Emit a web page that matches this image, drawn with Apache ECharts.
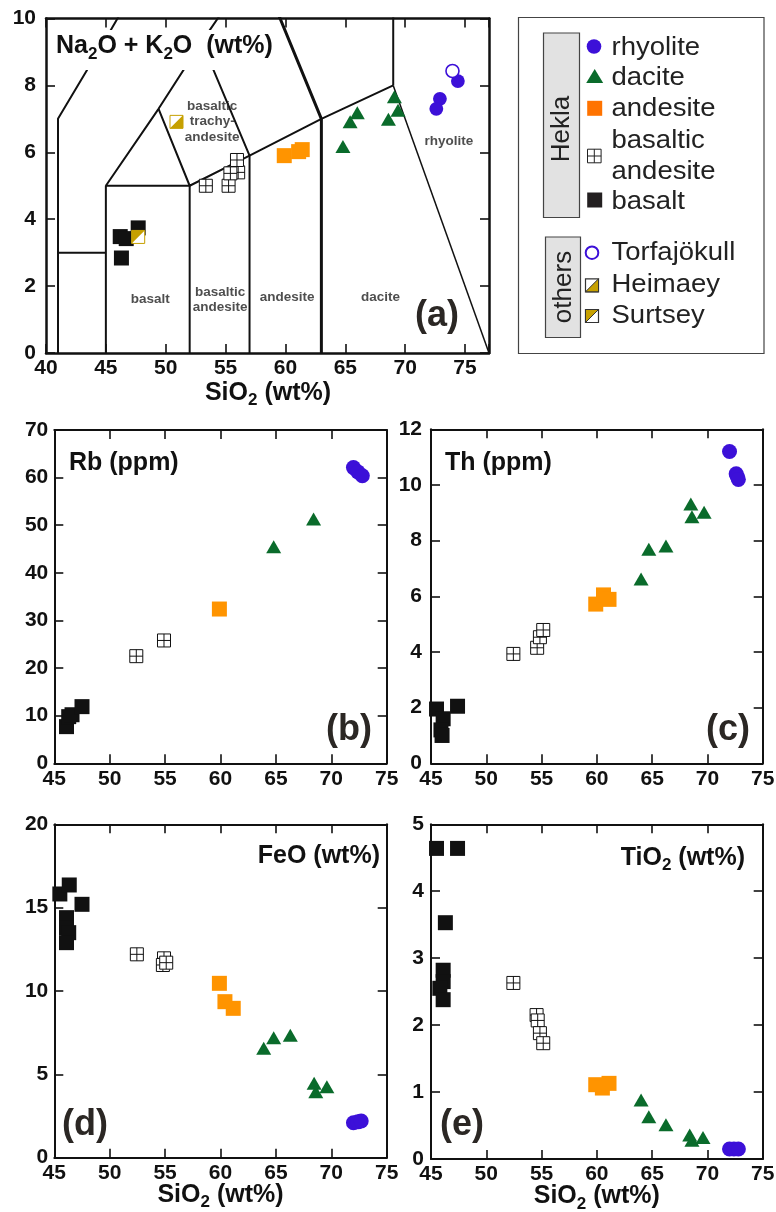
<!DOCTYPE html>
<html>
<head>
<meta charset="utf-8">
<script src="https://cdn.jsdelivr.net/npm/echarts@6/dist/echarts.min.js"></script>
<style>
  html, body { margin: 0; padding: 0; background: #fff; }
  #chart { width: 776px; height: 1212px; }
</style>
</head>
<body>
<div id="chart"></div>
<script>
// ---------- axis ticks ----------
const tasSilicaTicks = [40, 45, 50, 55, 60, 65, 70, 75];
const tasSilicaMax = 77;
const tasAlkaliTicks = [0, 2, 4, 6, 8, 10];
const silicaTicks = [45, 50, 55, 60, 65, 70, 75];
const rbTicks = [0, 10, 20, 30, 40, 50, 60, 70];
const thTicks = [0, 2, 4, 6, 8, 10, 12];
const feoTicks = [0, 5, 10, 15, 20];
const tio2Ticks = [0, 1, 2, 3, 4, 5];

// ---------- (a) total alkali vs silica ----------
const tasRhyolite = [[74.4, 8.13], [72.9, 7.6], [72.6, 7.3]];
const tasDacite = [[69.1, 7.66], [69.4, 7.26], [66.0, 7.18], [65.4, 6.91], [68.6, 6.99], [64.8, 6.17]];
const tasAndesite = [[59.9, 5.9], [61.1, 6.02], [61.4, 6.08]];
const tasBasAndesite = [[53.35, 5.0], [55.25, 5.0], [56.05, 5.4], [55.4, 5.37], [55.95, 5.77]];
const tasBasalt = [[46.2, 3.48], [46.7, 3.42], [46.3, 2.84], [47.7, 3.74]];
const tasTorfajokull = [[73.95, 8.43]];
const tasHeimaey = [[50.9, 6.91]];
const tasSurtsey = [[47.7, 3.47]];

// TAS field boundaries (Le Bas et al.)
const tasLinesThin = [
  [[41, 0], [41, 7], [45, 9.4], [48.4, 11.5]],
  [[41, 3], [45, 3]],
  [[45, 0], [45, 5], [52, 5], [52, 0]],
  [[45, 5], [49.4, 7.3], [53, 9.3], [57.6, 11.7]],
  [[49.4, 7.3], [52, 5], [57, 5.9], [63, 7], [69, 8]],
  [[57, 0], [57, 5.9], [53, 9.3]],
  [[69, 8], [69, 13]]
];
const tasLinesThick = [
  [[63, 0], [63, 7], [57.6, 11.7]]
];
const tasLinesFine = [
  [[69, 8], [77, 0]]
];
const tasFieldLabels = [
  [48.7, 1.6, 'basalt'],
  [54.55, 1.59, 'basaltic\nandesite'],
  [60.13, 1.68, 'andesite'],
  [67.93, 1.68, 'dacite'],
  [73.64, 6.32, 'rhyolite'],
  [53.88, 6.92, 'basaltic\ntrachy-\nandesite']
];

// ---------- (b) Rb ----------
const rbRhyolite = [[72.0, 62.1], [72.4, 61.2], [72.8, 60.4]];
const rbDacite = [[64.8, 45.5], [68.4, 51.3]];
const rbAndesite = [[59.9, 32.4]];
const rbBasAndesite = [[52.4, 22.5], [54.9, 25.8]];
const rbBasalt = [[46.1, 7.7], [46.3, 9.8], [46.6, 10.2], [47.5, 11.9]];

// ---------- (c) Th ----------
const thRhyolite = [[72.0, 11.2], [72.6, 10.4], [72.7, 10.3], [72.8, 10.2]];
const thDacite = [[68.5, 9.32], [68.6, 8.86], [69.7, 9.02], [64.7, 7.69], [66.25, 7.81], [64.0, 6.62]];
const thAndesite = [[59.9, 5.72], [60.6, 6.05], [61.1, 5.89]];
const thBasAndesite = [[52.45, 3.93], [54.6, 4.15], [54.85, 4.53], [55.15, 4.79]];
const thBasalt = [[45.5, 1.95], [46.1, 1.6], [45.9, 1.2], [46.0, 1.0], [47.4, 2.05]];

// ---------- (d) FeO ----------
const feRhyolite = [[72.0, 2.1], [72.4, 2.15], [72.7, 2.2]];
const feDacite = [[63.9, 6.56], [64.8, 7.2], [66.3, 7.34], [68.45, 4.46], [68.6, 3.96], [69.6, 4.26]];
const feAndesite = [[59.9, 10.46], [60.4, 9.36], [61.15, 8.96]];
const feBasAndesite = [[52.45, 12.2], [54.9, 11.96], [54.8, 11.56], [55.1, 11.7]];
const feBasalt = [[45.5, 15.82], [46.35, 16.36], [47.5, 15.2], [46.1, 14.4], [46.1, 13.8], [46.3, 13.5], [46.1, 12.9]];

// ---------- (e) TiO2 ----------
const tiRhyolite = [[72.0, 0.15], [72.4, 0.15], [72.8, 0.15]];
const tiDacite = [[64.0, 0.88], [64.7, 0.63], [66.25, 0.51], [68.4, 0.36], [68.6, 0.28], [69.6, 0.32]];
const tiAndesite = [[59.9, 1.11], [60.5, 1.06], [61.1, 1.13]];
const tiBasAndesite = [[52.45, 2.63], [54.55, 2.15], [54.65, 2.07], [54.85, 1.88], [55.15, 1.73]];
const tiBasalt = [[45.5, 4.64], [47.4, 4.64], [46.3, 3.53], [46.1, 2.82], [46.1, 2.65], [45.8, 2.55], [46.1, 2.38]];

// ---------- styling ----------
const FONT = "'Liberation Sans', Arial, Helvetica, sans-serif";
const BLUE = '#3c10d8';
const GREEN = '#0a6b2b';
const ORANGE = '#ff9400';
const GOLD = '#c6a000';
const INK = '#111';

const SYM_GRID = 'path://M0,0H10V10H0ZM5,0V10M0,5H10';
const SYM_UL = 'path://M0,0L10,0L0,10Z';
const SYM_LR = 'path://M10,0L10,10L0,10Z';

const markStyles = {
  rhyolite: { symbol: 'circle', size: 15, color: BLUE },
  dacite: { symbol: 'triangle', size: [15, 13], color: GREEN },
  andesite: { symbol: 'rect', size: 15, color: ORANGE },
  basAndesite: { symbol: SYM_GRID, size: 13, color: '#fff', border: INK, bw: 1 },
  basalt: { symbol: 'rect', size: 15, color: INK }
};

// panel layout: [left, top, width, height]
const panels = [
  { box: [46, 18.5, 443, 334.5], xt: tasSilicaTicks, xmax: tasSilicaMax, yt: tasAlkaliTicks, frame: 2.5, ym: 10 },
  { box: [54.3, 430, 332.4, 333.3], xt: silicaTicks, yt: rbTicks, frame: 2, ym: 6 },
  { box: [431, 429.3, 331.7, 334], xt: silicaTicks, yt: thTicks, frame: 2, ym: 9 },
  { box: [54.3, 824.3, 332.4, 333.4], xt: silicaTicks, yt: feoTicks, frame: 2, ym: 6 },
  { box: [431, 824.3, 331.7, 334.7], xt: silicaTicks, yt: tio2Ticks, frame: 2, ym: 7 }
];

const grid = [];
const xAxis = [];
const yAxis = [];
panels.forEach((p, gi) => {
  grid.push({ left: p.box[0], top: p.box[1], width: p.box[2], height: p.box[3], outerBoundsMode: 'none', containLabel: false });
  const xmin = p.xt[0], xstep = p.xt[1] - p.xt[0], xmax = p.xmax || p.xt[p.xt.length - 1];
  const ymin = p.yt[0], ystep = p.yt[1] - p.yt[0], ymax = p.yt[p.yt.length - 1];
  const line = { show: true, onZero: false, lineStyle: { color: INK, width: p.frame } };
  const tick = { show: true, inside: true, length: 9, lineStyle: { color: INK, width: 1.6 } };
  const lab = (margin, list) => ({
    show: true, margin, fontFamily: FONT, fontWeight: 'bold', fontSize: 21, color: INK,
    formatter: (v) => list.indexOf(v) >= 0 ? String(v) : ''
  });
  ['bottom', 'top'].forEach((pos, k) => xAxis.push({
    type: 'value', gridIndex: gi, position: pos, min: xmin, max: xmax, interval: xstep,
    axisLine: line, axisTick: tick, splitLine: { show: false },
    axisLabel: k === 0 ? lab(5, p.xt) : { show: false }
  }));
  ['left', 'right'].forEach((pos, k) => yAxis.push({
    type: 'value', gridIndex: gi, position: pos, min: ymin, max: ymax, interval: ystep,
    axisLine: line, axisTick: tick, splitLine: { show: false },
    axisLabel: k === 0 ? lab(p.ym, p.yt) : { show: false }
  }));
});

function scat(name, data, gi, st, z) {
  return {
    type: 'scatter', name, data, xAxisIndex: gi * 2, yAxisIndex: gi * 2,
    symbol: st.symbol, symbolSize: st.size, z: z || 3, silent: true,
    itemStyle: { color: st.color, borderColor: st.border || st.color, borderWidth: st.bw || 0, opacity: 1 }
  };
}
function scaled(st, f) { return Object.assign({}, st, { size: Array.isArray(st.size) ? st.size.map(v => v * f) : st.size * f }); }

const series = [];
// TAS boundary lines
function addLines(list, width) {
  list.forEach((pts) => series.push({
    type: 'line', data: pts, xAxisIndex: 0, yAxisIndex: 0, symbol: 'none', silent: true, z: 2,
    lineStyle: { color: INK, width }, clip: true
  }));
}
addLines(tasLinesThin, 2);
addLines(tasLinesThick, 3);
addLines(tasLinesFine, 1.5);
series.push({
  type: 'scatter', data: tasFieldLabels, xAxisIndex: 0, yAxisIndex: 0, symbolSize: 0, silent: true, z: 4,
  label: {
    show: true, position: 'inside', formatter: (q) => q.data[2], fontFamily: FONT, fontWeight: 'bold',
    fontSize: 13.5, lineHeight: 15.5, color: '#222', align: 'center'
  }
});

const panelData = [
  [tasRhyolite, tasDacite, tasAndesite, tasBasAndesite, tasBasalt],
  [rbRhyolite, rbDacite, rbAndesite, rbBasAndesite, rbBasalt],
  [thRhyolite, thDacite, thAndesite, thBasAndesite, thBasalt],
  [feRhyolite, feDacite, feAndesite, feBasAndesite, feBasalt],
  [tiRhyolite, tiDacite, tiAndesite, tiBasAndesite, tiBasalt]
];
const keys = ['rhyolite', 'dacite', 'andesite', 'basAndesite', 'basalt'];
const names = ['rhyolite', 'dacite', 'andesite', 'basaltic andesite', 'basalt'];
panelData.forEach((sets, gi) => {
  sets.forEach((d, k) => {
    let st = markStyles[keys[k]];
    if (gi === 0 && keys[k] === 'rhyolite') st = scaled(st, 0.92);
    series.push(scat(names[k], d, gi, st, 3));
  });
});
// other Icelandic volcanoes in (a)
series.push(scat('Torfajökull', tasTorfajokull, 0, { symbol: 'circle', size: 13, color: '#fff', border: BLUE, bw: 1.6 }, 5));
series.push(scat('Heimaey', tasHeimaey, 0, { symbol: 'rect', size: 13, color: '#fff', border: GOLD, bw: 1 }, 5));
series.push(scat('Heimaey', tasHeimaey, 0, { symbol: SYM_LR, size: 13, color: GOLD }, 6));
series.push(scat('Surtsey', tasSurtsey, 0, { symbol: 'rect', size: 13, color: '#fff', border: GOLD, bw: 1 }, 5));
series.push(scat('Surtsey', tasSurtsey, 0, { symbol: SYM_UL, size: 13, color: GOLD }, 6));

// ---------- text and legend ----------
const g = [];
function txt(x, y, text, size, opt) {
  opt = opt || {};
  g.push({
    type: 'text', x, y, z: 100, silent: true, rotation: opt.rot || 0, scaleX: opt.sx || 1,
    style: {
      text, fontFamily: FONT, fontSize: size, fontWeight: opt.weight || 'bold', fill: opt.fill || INK,
      align: opt.align || 'left', textAlign: opt.align || 'left',
      verticalAlign: 'middle', textVerticalAlign: 'middle', rich: opt.rich
    }
  });
}
const subRich = (size, sub, pad) => ({
  n: { fontFamily: FONT, fontSize: size, fontWeight: 'bold', fill: INK, color: INK },
  s: { fontFamily: FONT, fontSize: sub, fontWeight: 'bold', fill: INK, color: INK, padding: [pad, 0, 0, 0] }
});

// (a) ordinate title on a white panel
g.push({ type: 'rect', z: 90, silent: true, shape: { x: 48, y: 30, width: 234, height: 40 }, style: { fill: '#fff' } });
txt(56, 46.5, '{n|Na}{s|2}{n|O + K}{s|2}{n|O  (wt%)}', 25, { rich: subRich(25, 17, 15) });
txt(268, 393, '{n|SiO}{s|2}{n| (wt%)}', 25, { align: 'center', rich: subRich(25, 17, 15) });
txt(220.5, 1195, '{n|SiO}{s|2}{n| (wt%)}', 25, { align: 'center', rich: subRich(25, 17, 15) });
txt(596.8, 1196.5, '{n|SiO}{s|2}{n| (wt%)}', 25, { align: 'center', rich: subRich(25, 17, 15) });
txt(69, 463, 'Rb (ppm)', 25);
txt(445, 463, 'Th (ppm)', 25);
txt(380, 856, 'FeO (wt%)', 25, { align: 'right' });
txt(745, 858, '{n|TiO}{s|2}{n| (wt%)}', 25, { align: 'right', rich: subRich(25, 17, 15) });

const tagColor = '#2b2724';
txt(415, 316, '(a)', 36, { fill: tagColor });
txt(372, 730, '(b)', 36, { fill: tagColor, align: 'right' });
txt(750, 730, '(c)', 36, { fill: tagColor, align: 'right' });
txt(62, 1125, '(d)', 36, { fill: tagColor });
txt(440, 1125, '(e)', 36, { fill: tagColor });

// legend frame and group tabs
g.push({ type: 'rect', z: 50, silent: true, shape: { x: 518.5, y: 17.5, width: 245.5, height: 336 }, style: { fill: '#fff', stroke: '#444', lineWidth: 1.2 } });
g.push({ type: 'rect', z: 51, silent: true, shape: { x: 543.5, y: 33, width: 36, height: 184.5 }, style: { fill: '#e2e2e2', stroke: '#444', lineWidth: 1.2 } });
g.push({ type: 'rect', z: 51, silent: true, shape: { x: 545.5, y: 237, width: 35, height: 100.5 }, style: { fill: '#e2e2e2', stroke: '#444', lineWidth: 1.2 } });
txt(562, 129, 'Hekla', 26, { weight: 'normal', fill: '#222', align: 'center', rot: Math.PI / 2 });
txt(563.5, 287, 'others', 26, { weight: 'normal', fill: '#222', align: 'center', rot: Math.PI / 2 });

// legend icons
const LZ = 60;
g.push({ type: 'circle', z: LZ, silent: true, shape: { cx: 594, cy: 46.5, r: 7.3 }, style: { fill: BLUE } });
g.push({ type: 'polygon', z: LZ, silent: true, shape: { points: [[586.2, 83], [603.2, 83], [594.7, 69]] }, style: { fill: GREEN } });
g.push({ type: 'rect', z: LZ, silent: true, shape: { x: 587.2, y: 100.8, width: 15, height: 15 }, style: { fill: '#ff7300' } });
g.push({ type: 'rect', z: LZ, silent: true, shape: { x: 587.5, y: 149.2, width: 13.6, height: 13.6 }, style: { fill: '#fff', stroke: '#222', lineWidth: 1 } });
g.push({ type: 'line', z: LZ, silent: true, shape: { x1: 594.3, y1: 149.2, x2: 594.3, y2: 162.8 }, style: { stroke: '#222', lineWidth: 1 } });
g.push({ type: 'line', z: LZ, silent: true, shape: { x1: 587.5, y1: 156, x2: 601.1, y2: 156 }, style: { stroke: '#222', lineWidth: 1 } });
g.push({ type: 'rect', z: LZ, silent: true, shape: { x: 587.2, y: 192.5, width: 15, height: 15 }, style: { fill: '#231f20' } });
g.push({ type: 'circle', z: LZ, silent: true, shape: { cx: 592, cy: 252.7, r: 6.3 }, style: { fill: '#fff', stroke: BLUE, lineWidth: 2 } });
g.push({ type: 'rect', z: LZ, silent: true, shape: { x: 585.5, y: 278.8, width: 13, height: 13 }, style: { fill: '#fff', stroke: '#333', lineWidth: 1.2 } });
g.push({ type: 'polygon', z: LZ + 1, silent: true, shape: { points: [[598.5, 278.8], [598.5, 291.8], [585.5, 291.8]] }, style: { fill: GOLD, stroke: '#333', lineWidth: 1 } });
g.push({ type: 'rect', z: LZ, silent: true, shape: { x: 585.5, y: 309.5, width: 13, height: 13 }, style: { fill: '#fff', stroke: '#333', lineWidth: 1.2 } });
g.push({ type: 'polygon', z: LZ + 1, silent: true, shape: { points: [[585.5, 309.5], [598.5, 309.5], [585.5, 322.5]] }, style: { fill: GOLD, stroke: '#333', lineWidth: 1 } });

// legend entries
const legendRows = [
  ['rhyolite', 47.7], ['dacite', 78.3], ['andesite', 109], ['basaltic', 141], ['andesite', 171.7],
  ['basalt', 201.7], ['Torfajökull', 253.3], ['Heimaey', 285], ['Surtsey', 315.7]
];
legendRows.forEach(([t, y]) => txt(611.5, y, t, 25, { weight: 'normal', fill: '#222', sx: 1.1 }));

const chart = echarts.init(document.getElementById('chart'), null, { renderer: 'canvas' });
chart.setOption({
  backgroundColor: '#fff',
  animation: false,
  grid, xAxis, yAxis, series,
  graphic: { elements: g }
});
</script>
</body>
</html>
